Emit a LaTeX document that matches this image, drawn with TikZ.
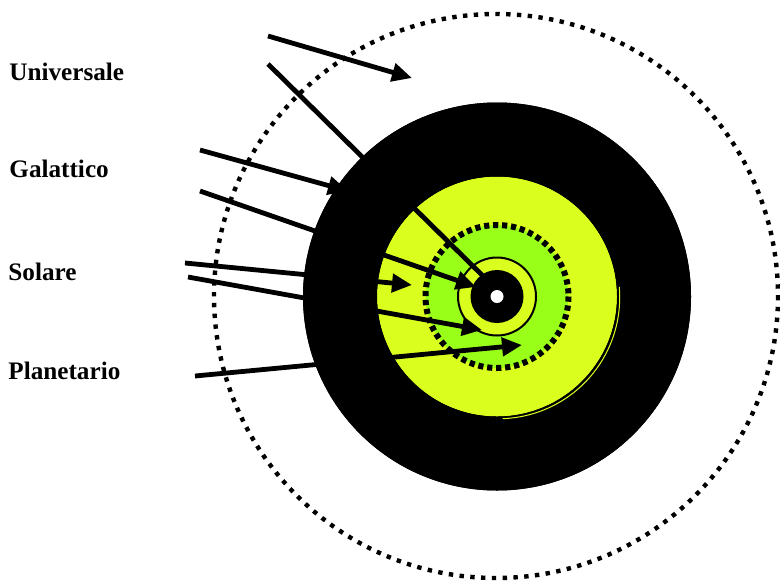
\documentclass[tikz,border=0pt]{standalone}
\usepackage{fontspec}
\setmainfont{Liberation Serif}
\usetikzlibrary{arrows.meta}

\definecolor{giallo}{RGB}{218,255,30}
\definecolor{verde}{RGB}{153,255,25}

\begin{document}
\begin{tikzpicture}[
			x=0.5pt, y=-0.5pt,
			>={Triangle[length=10pt,width=9pt]},
			freccia/.style={line width=2.4pt, black},
			puntini/.style={line width=2.2pt, dash pattern=on 2.2pt off 3.2pt},
			trattini/.style={line width=3pt, dash pattern=on 2.6pt off 1.9pt},
			etichetta/.style={anchor=base west, inner sep=0pt,
				font=\fontsize{12.6}{15}\selectfont\bfseries}]
			
			\useasboundingbox (0,0) rectangle (780,584);
			
			\def\rU{282}     %% orbita universale (punteggiata)
			\def\rG{194}     %% disco nero galattico
			\def\rS{120}     %% disco giallo solare
			\def\rP{71.5}    %% anello verde planetario
			\def\rA{39}      %% cerchio sottile
			\def\rN{26.5}    %% nucleo nero
			\def\rB{6.5}     %% punto bianco
			
			\coordinate (C) at (497,296.5);
			
			%% --- etichette ---
			\node[etichetta] (universale) at (9,80)  {Universale};
			\node[etichetta] (galattico)  at (9,177) {Galattico};
			\node[etichetta] (solare)     at (8,280) {Solare};
			\node[etichetta] (planetario) at (8,379) {Planetario};
			
			%% --- estremi delle frecce ---
			\coordinate (u1a) at (268,36);  \coordinate (u1b) at (412,78);
			\coordinate (u2a) at (268,64);  \coordinate (u2b) at (484,277);
			\coordinate (g1a) at (200,150); \coordinate (g1b) at (348,191);
			\coordinate (g2a) at (200,191); \coordinate (g2b) at (476,287);
			\coordinate (s1a) at (185,263); \coordinate (s1b) at (412,285);
			\coordinate (s2a) at (188,277); \coordinate (s2b) at (482,330);
			\coordinate (p1a) at (195,376); \coordinate (p1b) at (522,345);
			
			%% --- cerchi concentrici ---
			\draw[puntini] (496,296) circle[radius=\rU];
			\fill[black] (C) circle[radius=\rG];
			\fill[giallo] (C) circle[radius=\rS];
			\fill[verde] (C) circle[radius=\rP];
			\draw[trattini] (C) circle[radius=\rP];
			\filldraw[fill=giallo, draw=black, line width=1pt] (C) circle[radius=\rA];
			\fill[black] (C) circle[radius=\rN];
			\fill[white] (C) circle[radius=\rB];
			
			%% --- frecce ---
			\draw[freccia, ->] (u1a) -- (u1b);
			\draw[freccia] (u2a) -- (u2b);
			\draw[freccia, ->] (g1a) -- (g1b);
			\draw[freccia, ->] (g2a) -- (g2b);
			\draw[freccia, ->] (s1a) -- (s1b);
			\draw[freccia, ->] (s2a) -- (s2b);
			\draw[freccia, ->] (p1a) -- (p1b);
			
			%% --- corona nera sopra le frecce ---
			\fill[black, even odd rule] (C) circle[radius=\rG] (C) circle[radius=\rS];
			\draw[giallo, line width=0.5pt] (498.5,297.5) ++(-5:121.2) arc[start angle=-5, end angle=88, radius=121.2];
			
		\end{tikzpicture}
\end{document}
